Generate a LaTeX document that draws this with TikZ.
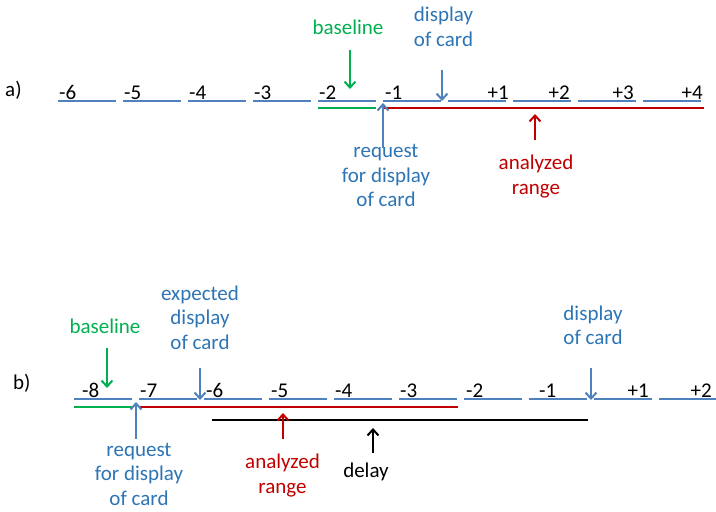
\documentclass[tikz,border=0pt]{standalone}
\usepackage{fontspec}
\setmainfont{Carlito}
\usetikzlibrary{arrows.meta}
\definecolor{segblue}{RGB}{79,129,189}
\definecolor{txtblue}{RGB}{46,117,182}
\definecolor{mygreen}{RGB}{0,176,80}
\definecolor{myred}{RGB}{192,0,0}
\begin{document}
\begin{tikzpicture}[x=1pt,y=-1pt,
  font=\fontsize{21}{24.5}\selectfont,
  seg/.style={segblue, line width=2.6pt},
  grnline/.style={mygreen, line width=2.6pt},
  redline/.style={myred, line width=2.6pt},
  blkline/.style={black, line width=2.6pt},
  arr/.style={line width=2pt, -{Straight Barb[length=6pt,width=11pt,line width=2pt]}},
  numw/.style={inner sep=0pt, anchor=base west},
  nume/.style={inner sep=0pt, anchor=base east},
  lbl/.style={align=center, inner sep=0pt}]
\useasboundingbox[fill=white] (0,0) rectangle (716,512);

% ---------------- a) ----------------
\node[numw] (la) at (5,96) {a)};
\foreach \i in {0,...,9} \draw[seg] ({58+65*\i},101) -- ++(58,0);
\node[numw] (a1) at (59,99) {-6};
\node[numw] (a2) at (124,99) {-5};
\node[numw] (a3) at (189,99) {-4};
\node[numw] (a4) at (254,99) {-3};
\node[numw] (a5) at (319,99) {-2};
\node[numw] (a6) at (385,99) {-1};
\node[nume] (a7) at (509,99) {+1};
\node[nume] (a8) at (570,99) {+2};
\node[nume] (a9) at (634,99) {+3};
\node[nume] (a10) at (703,99) {+4};
\draw[grnline] (318,108) -- (376,108);
\draw[redline] (383,108) -- (704,108);

\node[lbl, mygreen] (blA) at (348,27) {baseline};
\coordinate (blAs) at (350,50); \coordinate (blAe) at (350,89);
\draw[arr, mygreen] (blAs) -- (blAe);

\node[lbl, txtblue] (dcA) at (443.5,26.8) {display\\of card};
\coordinate (dcAs) at (442,70); \coordinate (dcAe) at (442,101);
\draw[arr, segblue] (dcAs) -- (dcAe);

\node[lbl, txtblue] (rqA) at (386,175.5) {request\\for display\\of card};
\coordinate (rqAs) at (383,148); \coordinate (rqAe) at (383,103);
\draw[arr, segblue] (rqAs) -- (rqAe);

\node[lbl, myred] (arA) at (536,176.7) {analyzed\\range};
\coordinate (arAs) at (535,140); \coordinate (arAe) at (535,114);
\draw[arr, myred] (arAs) -- (arAe);

% ---------------- b) ----------------
\node[numw] (lb) at (13,389) {b)};
\foreach \i in {0,...,9} \draw[seg] ({74+65*\i},399) -- ++(58,0);
\node[numw] (b1) at (82,397) {-8};
\node[numw] (b2) at (140,397) {-7};
\node[numw] (b3) at (206,397) {-6};
\node[numw] (b4) at (271,397) {-5};
\node[numw] (b5) at (335,397) {-4};
\node[numw] (b6) at (400,397) {-3};
\node[numw] (b7) at (466,397) {-2};
\node[numw] (b8) at (539,397) {-1};
\node[nume] (b9) at (649,397) {+1};
\node[nume] (b10) at (712,397) {+2};
\draw[grnline] (74,407) -- (132,407);
\draw[redline] (139,407) -- (458,407);
\draw[blkline] (212,420) -- (588,420);

\node[lbl, mygreen] (blB) at (105,326.5) {baseline};
\coordinate (blBs) at (107,348); \coordinate (blBe) at (107,388);
\draw[arr, mygreen] (blBs) -- (blBe);

\node[lbl, txtblue] (exB) at (200,317.5) {expected\\display\\of card};
\coordinate (exBs) at (200,368); \coordinate (exBe) at (200,400);
\draw[arr, segblue] (exBs) -- (exBe);

\node[lbl, txtblue] (dcB) at (593,325.5) {display\\of card};
\coordinate (dcBs) at (591,368); \coordinate (dcBe) at (591,400);
\draw[arr, segblue] (dcBs) -- (dcBe);

\node[lbl, txtblue] (rqB) at (139,474) {request\\for display\\of card};
\coordinate (rqBs) at (136,439); \coordinate (rqBe) at (136,402);
\draw[arr, segblue] (rqBs) -- (rqBe);

\node[lbl, myred] (arB) at (282.5,475.5) {analyzed\\range};
\coordinate (arBs) at (283,439); \coordinate (arBe) at (283,413);
\draw[arr, myred] (arBs) -- (arBe);

\node[lbl, black] (dlB) at (366,472) {delay};
\coordinate (dlBs) at (373,453); \coordinate (dlBe) at (373,428);
\draw[arr, black] (dlBs) -- (dlBe);
\end{tikzpicture}
\end{document}
